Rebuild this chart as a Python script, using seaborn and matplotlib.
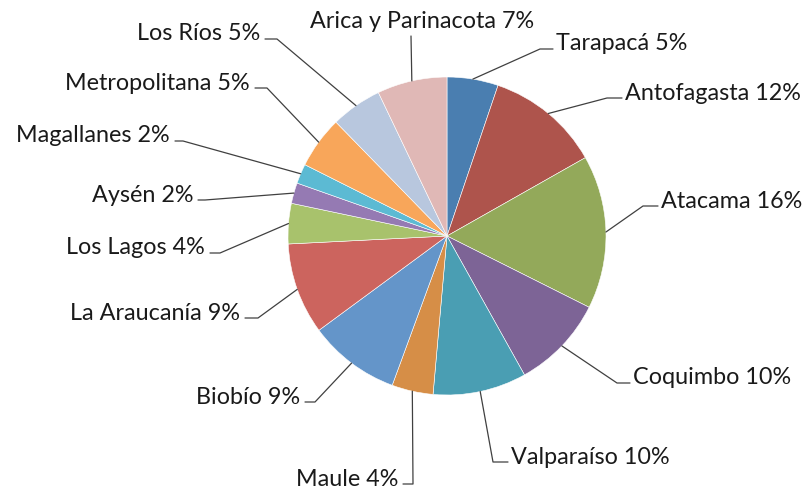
import numpy as np
import matplotlib
matplotlib.use("Agg")
import matplotlib.pyplot as plt
import seaborn as sns

sns.set_theme(style="white")
plt.rcParams['font.family'] = ['Lato', 'DejaVu Sans']

# regions in clockwise order starting at 12 o'clock
regions = ["Tarapacá", "Antofagasta", "Atacama", "Coquimbo", "Valparaíso", "Maule",
           "Biobío", "La Araucanía", "Los Lagos", "Aysén", "Magallanes",
           "Metropolitana", "Los Ríos", "Arica y Parinacota"]
# shares (%)
shares = [5.2, 11.6, 15.6, 9.5, 9.5, 4.2, 9.3, 9.3, 4.1, 2.1, 2.0, 5.3, 5.2, 7.1]

colors = ["#4a7eb0", "#ae544c", "#93a95a", "#7d6496", "#4a9eb3", "#d68e47",
          "#6495c9", "#cc645e", "#a8c26c", "#957ab3", "#5cbad3", "#f8a65a",
          "#b8c7de", "#e0b8b6"]

# label layout in pixel coords: elbow of leader line, end of horizontal stub, side
layout = [
    ((540, 50), 553, "left"),
    ((607, 99), 622, "left"),
    ((643, 207), 658, "left"),
    ((617, 384), 630, "left"),
    ((493, 463), 508, "left"),
    ((413, 485), 403, "right"),
    ((315, 403), 305, "right"),
    ((258, 319), 245, "right"),
    ((220, 254), 210, "right"),
    ((205, 201), 198, "right"),
    ((183, 142), 175, "right"),
    ((267, 89), 255, "right"),
    ((277, 40), 265, "right"),
    ((411, 37), None, "center"),
]

FS = 16.8

fig = plt.figure(figsize=(8.11, 4.89), dpi=100)
ax = fig.add_axes([0, 0, 1, 1])

# y axis is inverted below, so counterclock in data = clockwise on screen
wedges, _ = ax.pie(shares, colors=colors, startangle=-90, counterclock=True,
                   center=(447, 237), radius=159, frame=True,
                   wedgeprops=dict(edgecolor="white", linewidth=0.4))
ax.set_xlim(0, 811)
ax.set_ylim(489, 0)  # pixel coords, y downwards
ax.set_aspect('equal')
ax.axis('off')

for w, name, val, (elbow, stub, side) in zip(wedges, regions, shares, layout):
    mid = np.deg2rad((w.theta1 + w.theta2) / 2)
    x0 = w.center[0] + w.r * np.cos(mid)
    y0 = w.center[1] + w.r * np.sin(mid)
    label = f"{name} {int(val + 0.5)}%"
    ex, ey = elbow
    if side == "center":
        ax.plot([x0, ex], [y0, ey], color="#404040", lw=0.9)
        ax.text(422, 22, label, ha="center", va="center", fontsize=FS, color="#1a1a1a")
        continue
    ax.plot([x0, ex, stub], [y0, ey, ey], color="#404040", lw=0.9)
    tx = stub + 3 if side == "left" else stub - 5
    ax.text(tx, ey - 6, label, ha=side, va="center", fontsize=FS, color="#1a1a1a")

fig.savefig("out.png", dpi=100)
